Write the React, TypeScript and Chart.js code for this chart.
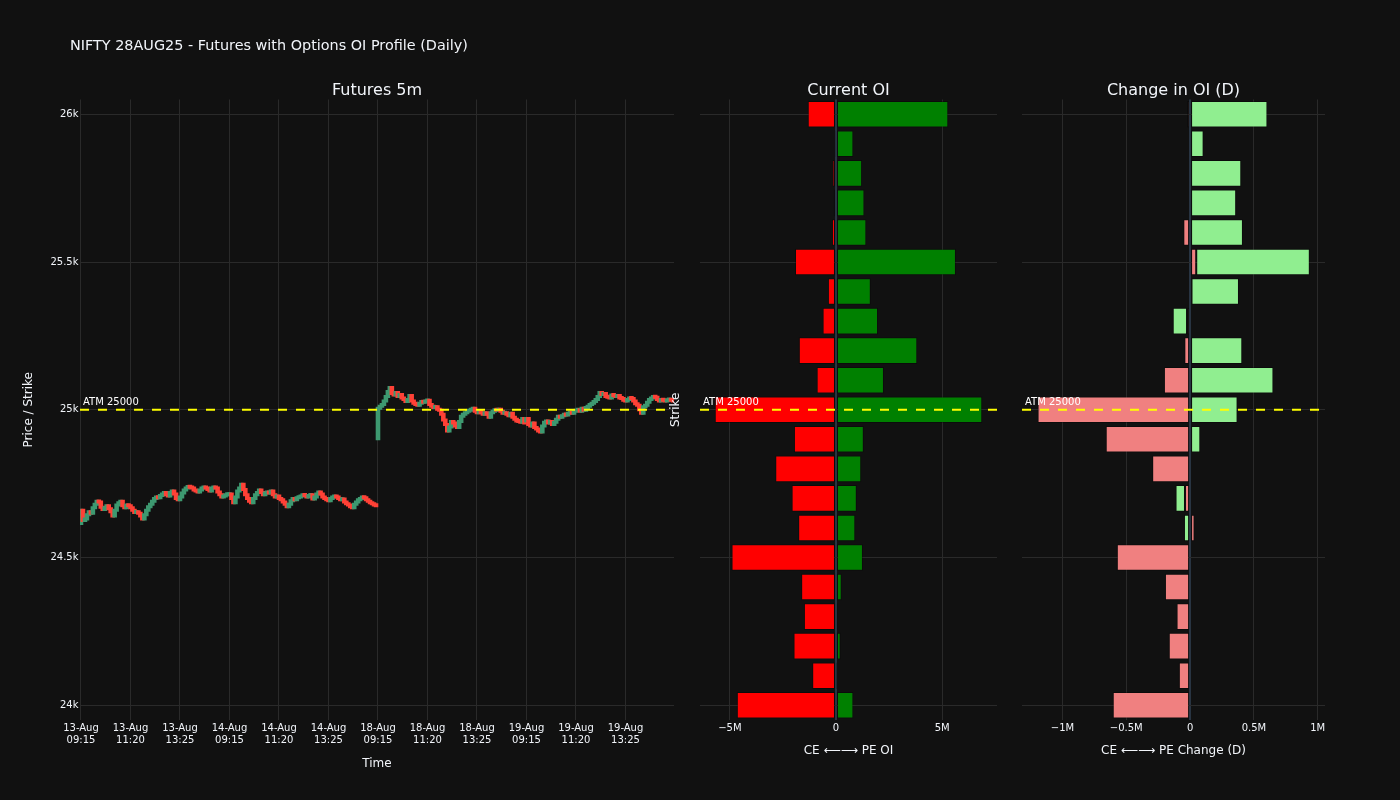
import React, { useEffect, useRef } from "react";
import { Chart, registerables } from "chart.js";

Chart.register(...registerables);

const FONT = "'DejaVu Sans', Verdana, sans-serif";
const TEXT = "#f2f5fa";
const GRID = "#2a2a2a";
const ZERO = "#283442";
const BG = "#111111";

const mainTitle = "NIFTY 28AUG25 - Futures with Options OI Profile (Daily)";
const panelTitles = ["Futures 5m", "Current OI", "Change in OI (D)"];
const axisTitles = ["Time", "CE ⟵⟶ PE OI", "CE ⟵⟶ PE Change (D)"];

// ---- Futures 5m candles ----
const tradeDays = ["13-Aug", "14-Aug", "18-Aug", "19-Aug"];
const dayOpen = [24615, 24712, 24902, 24962];
const day13Close = [
  24660, 24625, 24630, 24645, 24655, 24650, 24668, 24680, 24690, 24688,
  24670, 24662, 24668, 24675, 24665, 24655, 24640, 24660, 24678, 24685,
  24690, 24675, 24668, 24678, 24675, 24668, 24660, 24652, 24655, 24650,
  24640, 24630, 24645, 24660, 24672, 24680, 24690, 24700, 24705, 24702,
  24710, 24715, 24720, 24712, 24708, 24720, 24725, 24715, 24700, 24695,
  24705, 24718, 24728, 24735, 24740, 24738, 24735, 24728, 24725, 24722,
  24728, 24735, 24738, 24735, 24730, 24725, 24735, 24738, 24735, 24722,
  24712, 24705, 24708, 24712, 24715,
];
const day14Close = [
  24715, 24700, 24685, 24705, 24725, 24735, 24748, 24730, 24712, 24700,
  24690, 24685, 24700, 24712, 24720, 24728, 24720, 24712, 24718, 24722,
  24718, 24725, 24712, 24705, 24708, 24700, 24695, 24688, 24680, 24672,
  24680, 24692, 24700, 24695, 24702, 24705, 24708, 24712, 24710, 24705,
  24710, 24712, 24698, 24705, 24715, 24722, 24715, 24705, 24700, 24695,
  24692, 24700, 24705, 24708, 24705, 24700, 24695, 24698, 24688, 24682,
  24678, 24672, 24668, 24680, 24688, 24695, 24700, 24705, 24702, 24695,
  24690, 24685, 24682, 24678, 24675,
];
const day18Close = [
  25005, 25012, 25018, 25030, 25045, 25062, 25075, 25055, 25050, 25058,
  25045, 25052, 25040, 25035, 25028, 25035, 25048, 25030, 25022, 25018,
  25015, 25022, 25028, 25025, 25030, 25032, 25018, 25012, 25008, 25010,
  25002, 24998, 24985, 24965, 24950, 24928, 24942, 24960, 24955, 24945,
  24940, 24960, 24978, 24985, 24990, 24995, 24998, 25002, 25005, 24995,
  24990, 24995, 24990, 24985, 24990, 24985, 24975, 24990, 24995, 25000,
  24998, 25002, 24995, 24988, 24990, 24985, 24980, 24988, 24975, 24968,
  24962, 24960, 24958, 24970, 24955,
];
const day19Close = [
  24970, 24950, 24945, 24955, 24940, 24935, 24928, 24925, 24945, 24958,
  24962, 24955, 24960, 24950, 24958, 24968, 24978, 24975, 24980, 24985,
  24982, 24988, 24990, 24988, 24995, 24998, 25000, 24995, 25005, 24998,
  25008, 25012, 25018, 25022, 25028, 25035, 25045, 25058, 25052, 25055,
  25045, 25042, 25040, 25050, 25048, 25045, 25048, 25040, 25038, 25032,
  25030, 25035, 25040, 25038, 25030, 25020, 25015, 25000, 24988, 25010,
  25015, 25025, 25035, 25040, 25045, 25042, 25035, 25030, 25035, 25032,
  25030, 25033, 25035, 25032, 25030,
];
const dayCloses = [day13Close, day14Close, day18Close, day19Close];
const priceTicks = [24000, 24500, 25000, 25500, 26000];
const xTickEvery = 25;

// ---- Options OI profile (millions) ----
const strikes = [
  26000, 25900, 25800, 25700, 25600, 25500, 25400, 25300, 25200, 25100, 25000,
  24900, 24800, 24700, 24600, 24500, 24400, 24300, 24200, 24100, 24000,
];
const ceOI = [
  1.33, 0.02, 0.16, 0.11, 0.19, 1.93, 0.38, 0.63, 1.75, 0.91, 5.71,
  1.98, 2.86, 2.09, 1.78, 4.92, 1.64, 1.51, 2.0, 1.12, 4.67,
];
const peOI = [
  5.29, 0.82, 1.23, 1.34, 1.43, 5.65, 1.64, 1.98, 3.83, 2.26, 6.89,
  1.31, 1.19, 0.98, 0.91, 1.27, 0.27, 0.08, 0.22, 0.01, 0.82,
];
// daily change in CE OI (plotted on the CE side, i.e. negated)
const ceChange = [
  0.024, 0, 0, 0, 0.053, -0.048, -0.011, 0.024, 0.045, 0.205, 1.195,
  0.661, 0.297, 0.04, -0.035, 0.574, 0.197, 0.106, 0.167, 0.088, 0.606,
];
const peChange = [
  0.606, 0.106, 0.401, 0.361, 0.414, 0.89, 0.372, -0.112, 0.409, 0.653, 0.372,
  0.08, 0, -0.074, -0.048, 0, 0, 0, 0, 0, 0,
];
const atmStrike = 25000;
const oiTicks = [-5e6, 0, 5e6];
const chgTicks = [-1e6, -5e5, 0, 5e5, 1e6];
const oiRange = [-6.405e6, 7.584e6];
const chgRange = [-1.317e6, 1.057e6];

const sessionTimes: string[] = [];
for (let m = 9 * 60 + 15; m <= 15 * 60 + 25; m += 5) {
  sessionTimes.push(
    `${String(Math.floor(m / 60)).padStart(2, "0")}:${String(m % 60).padStart(2, "0")}`
  );
}

const fmtM = (v: number) => {
  if (v === 0) return "0";
  const s = `${Math.abs(v) / 1e6}M`;
  return v < 0 ? `\u2212${s}` : s;
};

const overlay = (panelTitle: string, atmPixel: (c: any) => number, main?: string) => ({
  id: "overlay",
  afterDatasetsDraw(chart: any) {
    const { ctx, chartArea: a } = chart;
    const y = atmPixel(chart);
    ctx.save();
    ctx.strokeStyle = "#ffff00";
    ctx.lineWidth = 2;
    ctx.setLineDash([9, 9]);
    ctx.beginPath();
    ctx.moveTo(a.left, y);
    ctx.lineTo(a.right, y);
    ctx.stroke();
    ctx.setLineDash([]);
    ctx.fillStyle = "#ffffff";
    ctx.font = `10px ${FONT}`;
    ctx.textAlign = "left";
    ctx.textBaseline = "alphabetic";
    ctx.fillText(`ATM ${atmStrike}`, a.left + 3, y - 5);
    ctx.fillStyle = TEXT;
    ctx.font = `16px ${FONT}`;
    ctx.textAlign = "center";
    ctx.fillText(panelTitle, (a.left + a.right) / 2, a.top - 4.5);
    if (main) {
      ctx.font = `14.4px ${FONT}`;
      ctx.textAlign = "left";
      ctx.fillText(main, 70, 50);
    }
    ctx.restore();
  },
});

const tickFont = { family: FONT, size: 10 };
const titleFont = { family: FONT, size: 12 };

function futuresConfig(): any {
  const labels: string[] = [];
  const bodies: number[][] = [];
  const colors: string[] = [];
  dayCloses.forEach((closes, d) => {
    closes.forEach((c, i) => {
      const o = i === 0 ? dayOpen[d] : closes[i - 1];
      labels.push(`${tradeDays[d]} ${sessionTimes[i]}`);
      bodies.push([o, c]);
      colors.push(c >= o ? "#3D9970" : "#FF4136");
    });
  });
  return {
    type: "bar",
    data: {
      labels,
      datasets: [
        {
          data: bodies,
          backgroundColor: colors,
          borderWidth: 0,
          categoryPercentage: 1,
          barPercentage: 0.8,
          minBarLength: 1,
          inflateAmount: 1.5,
        },
      ],
    },
    options: {
      animation: false,
      responsive: false,
      maintainAspectRatio: false,
      layout: { padding: { top: 99.5, right: 16, bottom: 0, left: 0 } },
      plugins: { legend: { display: false }, tooltip: { enabled: false } },
      scales: {
        x: {
          type: "category",
          offset: true,
          border: { display: false },
          grid: { color: GRID, offset: false, drawTicks: false },
          afterBuildTicks: (s: any) => {
            s.ticks = s.ticks.filter((t: any) => t.value % xTickEvery === 0);
          },
          afterFit: (s: any) => {
            s.height = 80;
          },
          ticks: {
            autoSkip: false,
            maxRotation: 0,
            padding: 1.6,
            color: TEXT,
            font: { ...tickFont, lineHeight: 1.27 },
            callback: (v: number) => labels[v].split(" "),
          },
          title: {
            display: true,
            text: axisTitles[0],
            color: TEXT,
            font: titleFont,
            padding: { top: 0, bottom: 28.5 },
          },
        },
        y: {
          type: "linear",
          min: strikes[strikes.length - 1] - 50,
          max: strikes[0] + 50,
          border: { display: false },
          grid: { color: GRID, drawTicks: false },
          afterBuildTicks: (s: any) => {
            s.ticks = priceTicks.map((v) => ({ value: v }));
          },
          afterFit: (s: any) => {
            s.width = 80;
          },
          ticks: {
            padding: 1.5,
            color: TEXT,
            font: tickFont,
            callback: (v: number) => `${v / 1000}k`,
          },
          title: {
            display: true,
            text: "Price / Strike",
            color: TEXT,
            font: titleFont,
            padding: { top: 21.8, bottom: 0 },
          },
        },
      },
    },
    plugins: [overlay(panelTitles[0], (c) => c.scales.y.getPixelForValue(atmStrike), mainTitle)],
  };
}

function oiConfig(
  ce: number[],
  pe: number[],
  ceColor: string,
  peColor: string,
  range: number[],
  ticks: number[],
  title: string,
  xTitle: string,
  yWidth: number,
  padRight: number,
  yTitle?: string
): any {
  const labels = strikes.map(String);
  const grid500 = (ctx: any) =>
    ctx.tick && strikes[ctx.tick.value] % 500 === 0 ? GRID : "rgba(0,0,0,0)";
  return {
    type: "bar",
    data: {
      labels,
      datasets: [
        {
          label: "CE",
          data: ce.map((v) => -v * 1e6),
          backgroundColor: ceColor,
          borderColor: "rgba(0,0,0,0.3)",
          borderWidth: 1,
          borderSkipped: false,
        },
        {
          label: "PE",
          data: pe.map((v) => v * 1e6),
          backgroundColor: peColor,
          borderColor: "rgba(0,0,0,0.3)",
          borderWidth: 1,
          borderSkipped: false,
        },
      ],
    },
    options: {
      indexAxis: "y",
      animation: false,
      responsive: false,
      maintainAspectRatio: false,
      layout: { padding: { top: 99.5, right: padRight, bottom: 0, left: 0 } },
      datasets: { bar: { categoryPercentage: 0.9, barPercentage: 1 } },
      plugins: { legend: { display: false }, tooltip: { enabled: false } },
      scales: {
        x: {
          stacked: true,
          min: range[0],
          max: range[1],
          border: { display: false },
          grid: {
            drawTicks: false,
            color: (ctx: any) => (ctx.tick && ctx.tick.value === 0 ? ZERO : GRID),
            lineWidth: (ctx: any) => (ctx.tick && ctx.tick.value === 0 ? 2 : 1),
          },
          afterBuildTicks: (s: any) => {
            s.ticks = ticks.map((v) => ({ value: v }));
          },
          afterFit: (s: any) => {
            s.height = 80;
          },
          ticks: { padding: 2, color: TEXT, font: tickFont, callback: (v: number) => fmtM(v) },
          title: {
            display: true,
            text: xTitle,
            color: TEXT,
            font: titleFont,
            padding: { top: 0, bottom: 41.8 },
          },
        },
        y: {
          stacked: true,
          type: "category",
          offset: true,
          border: { display: false },
          grid: { offset: false, drawTicks: false, color: grid500 },
          ticks: { display: false },
          afterFit: (s: any) => {
            s.width = yWidth;
          },
          title: {
            display: !!yTitle,
            text: yTitle || "",
            color: TEXT,
            font: titleFont,
            padding: { top: 8.8, bottom: 0 },
          },
        },
      },
    },
    plugins: [
      overlay(title, (c) => c.scales.y.getPixelForValue(strikes.indexOf(atmStrike))),
    ],
  };
}

function Panel({ left, width, make }: { left: number; width: number; make: () => any }) {
  const ref = useRef<HTMLCanvasElement>(null);
  useEffect(() => {
    if (!ref.current) return;
    const chart = new Chart(ref.current, make());
    return () => chart.destroy();
  }, []);
  return (
    <canvas
      ref={ref}
      width={width}
      height={800}
      style={{ position: "absolute", left, top: 0, width, height: 800 }}
    />
  );
}

export default function App() {
  Chart.defaults.font.family = FONT;
  return (
    <div
      style={{
        position: "fixed",
        left: 0,
        top: 0,
        width: 1400,
        height: 800,
        background: BG,
        overflow: "hidden",
      }}
    >
      <Panel left={0} width={690} make={futuresConfig} />
      <Panel
        left={660}
        width={345}
        make={() =>
          oiConfig(ceOI, peOI, "#ff0000", "#008000", oiRange, oiTicks, panelTitles[1], axisTitles[1], 40, 8, "Strike")
        }
      />
      <Panel
        left={1005}
        width={395}
        make={() =>
          oiConfig(
            ceChange,
            peChange,
            "#f08080",
            "#90ee90",
            chgRange,
            chgTicks,
            panelTitles[2],
            axisTitles[2],
            17,
            75
          )
        }
      />
    </div>
  );
}
